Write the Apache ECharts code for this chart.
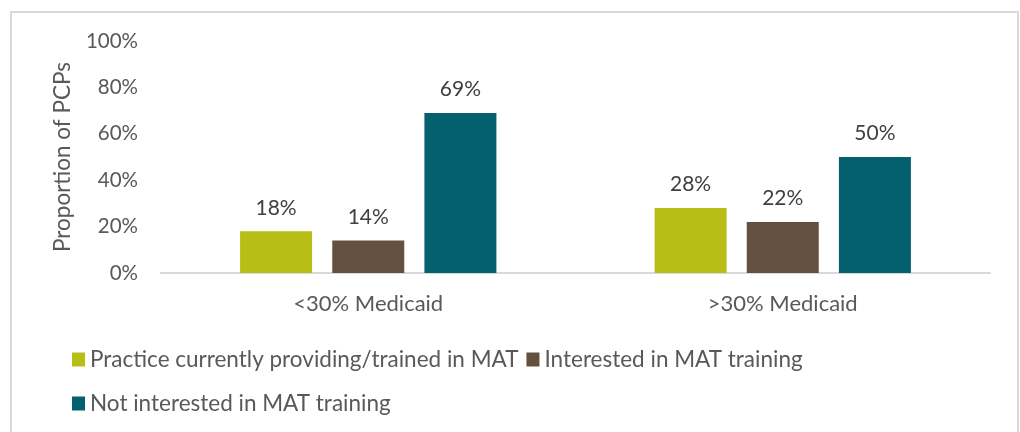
<!DOCTYPE html>
<html>
<head>
<meta charset="utf-8">
<script src="https://cdn.jsdelivr.net/npm/echarts@6/dist/echarts.min.js"></script>
<style>
  html, body { margin: 0; padding: 0; background: #fff; }
  #chart { width: 1020px; height: 432px; }
</style>
</head>
<body>
<div id="chart"></div>
<script>
// categories and series
const categories = ['<30% Medicaid', '>30% Medicaid'];
const providing = [18, 28];
const interested = [14, 22];
const notInterested = [69, 50];
const seriesNames = [
  'Practice currently providing/trained in MAT',
  'Interested in MAT training',
  'Not interested in MAT training'
];
const colors = ['#B7BE15', '#63503E', '#04606F'];

const FONT = 'Lato';

function bar(name, data, color) {
  return {
    name: name,
    type: 'bar',
    data: data,
    barWidth: 72,
    barGap: '28%',
    itemStyle: { color: color },
    label: {
      show: true,
      position: 'top',
      distance: 13,
      formatter: '{c}%',
      color: '#404040',
      fontFamily: FONT,
      fontSize: 21
    }
  };
}

let myChart = echarts.init(document.getElementById('chart'));
myChart.setOption({
  animation: false,
  textStyle: { fontFamily: FONT },
  graphic: [{
    type: 'rect',
    shape: { x: 11, y: 12, width: 1007, height: 440 },
    style: { fill: 'none', stroke: '#D9D9D9', lineWidth: 2 },
    silent: true
  }],
  grid: { left: 161, right: 30, top: 41, bottom: 159, containLabel: false },
  legend: [{
    data: seriesNames.slice(0, 2),
    left: 67,
    top: 343,
    itemWidth: 13,
    itemHeight: 14,
    itemGap: 8,
    icon: 'rect',
    textStyle: { color: '#595959', fontFamily: FONT, fontSize: 22.5 }
  }, {
    data: seriesNames.slice(2),
    left: 67,
    top: 387,
    itemWidth: 13,
    itemHeight: 14,
    icon: 'rect',
    textStyle: { color: '#595959', fontFamily: FONT, fontSize: 22.5 }
  }],
  xAxis: {
    type: 'category',
    data: categories,
    axisLine: { lineStyle: { color: '#D9D9D9', width: 2 } },
    axisTick: { show: false },
    axisLabel: { color: '#595959', fontFamily: FONT, fontSize: 22, margin: 20 }
  },
  yAxis: {
    type: 'value',
    min: 0,
    max: 100,
    interval: 20,
    name: 'Proportion of PCPs',
    nameLocation: 'middle',
    nameGap: 87,
    nameTextStyle: { color: '#595959', fontFamily: FONT, fontSize: 22.5 },
    axisLine: { show: false },
    axisTick: { show: false },
    splitLine: { show: false },
    axisLabel: { color: '#595959', fontFamily: FONT, fontSize: 20.5, margin: 23, formatter: '{value}%' }
  },
  series: [
    bar(seriesNames[0], providing, colors[0]),
    bar(seriesNames[1], interested, colors[1]),
    bar(seriesNames[2], notInterested, colors[2])
  ]
});
</script>
</body>
</html>
